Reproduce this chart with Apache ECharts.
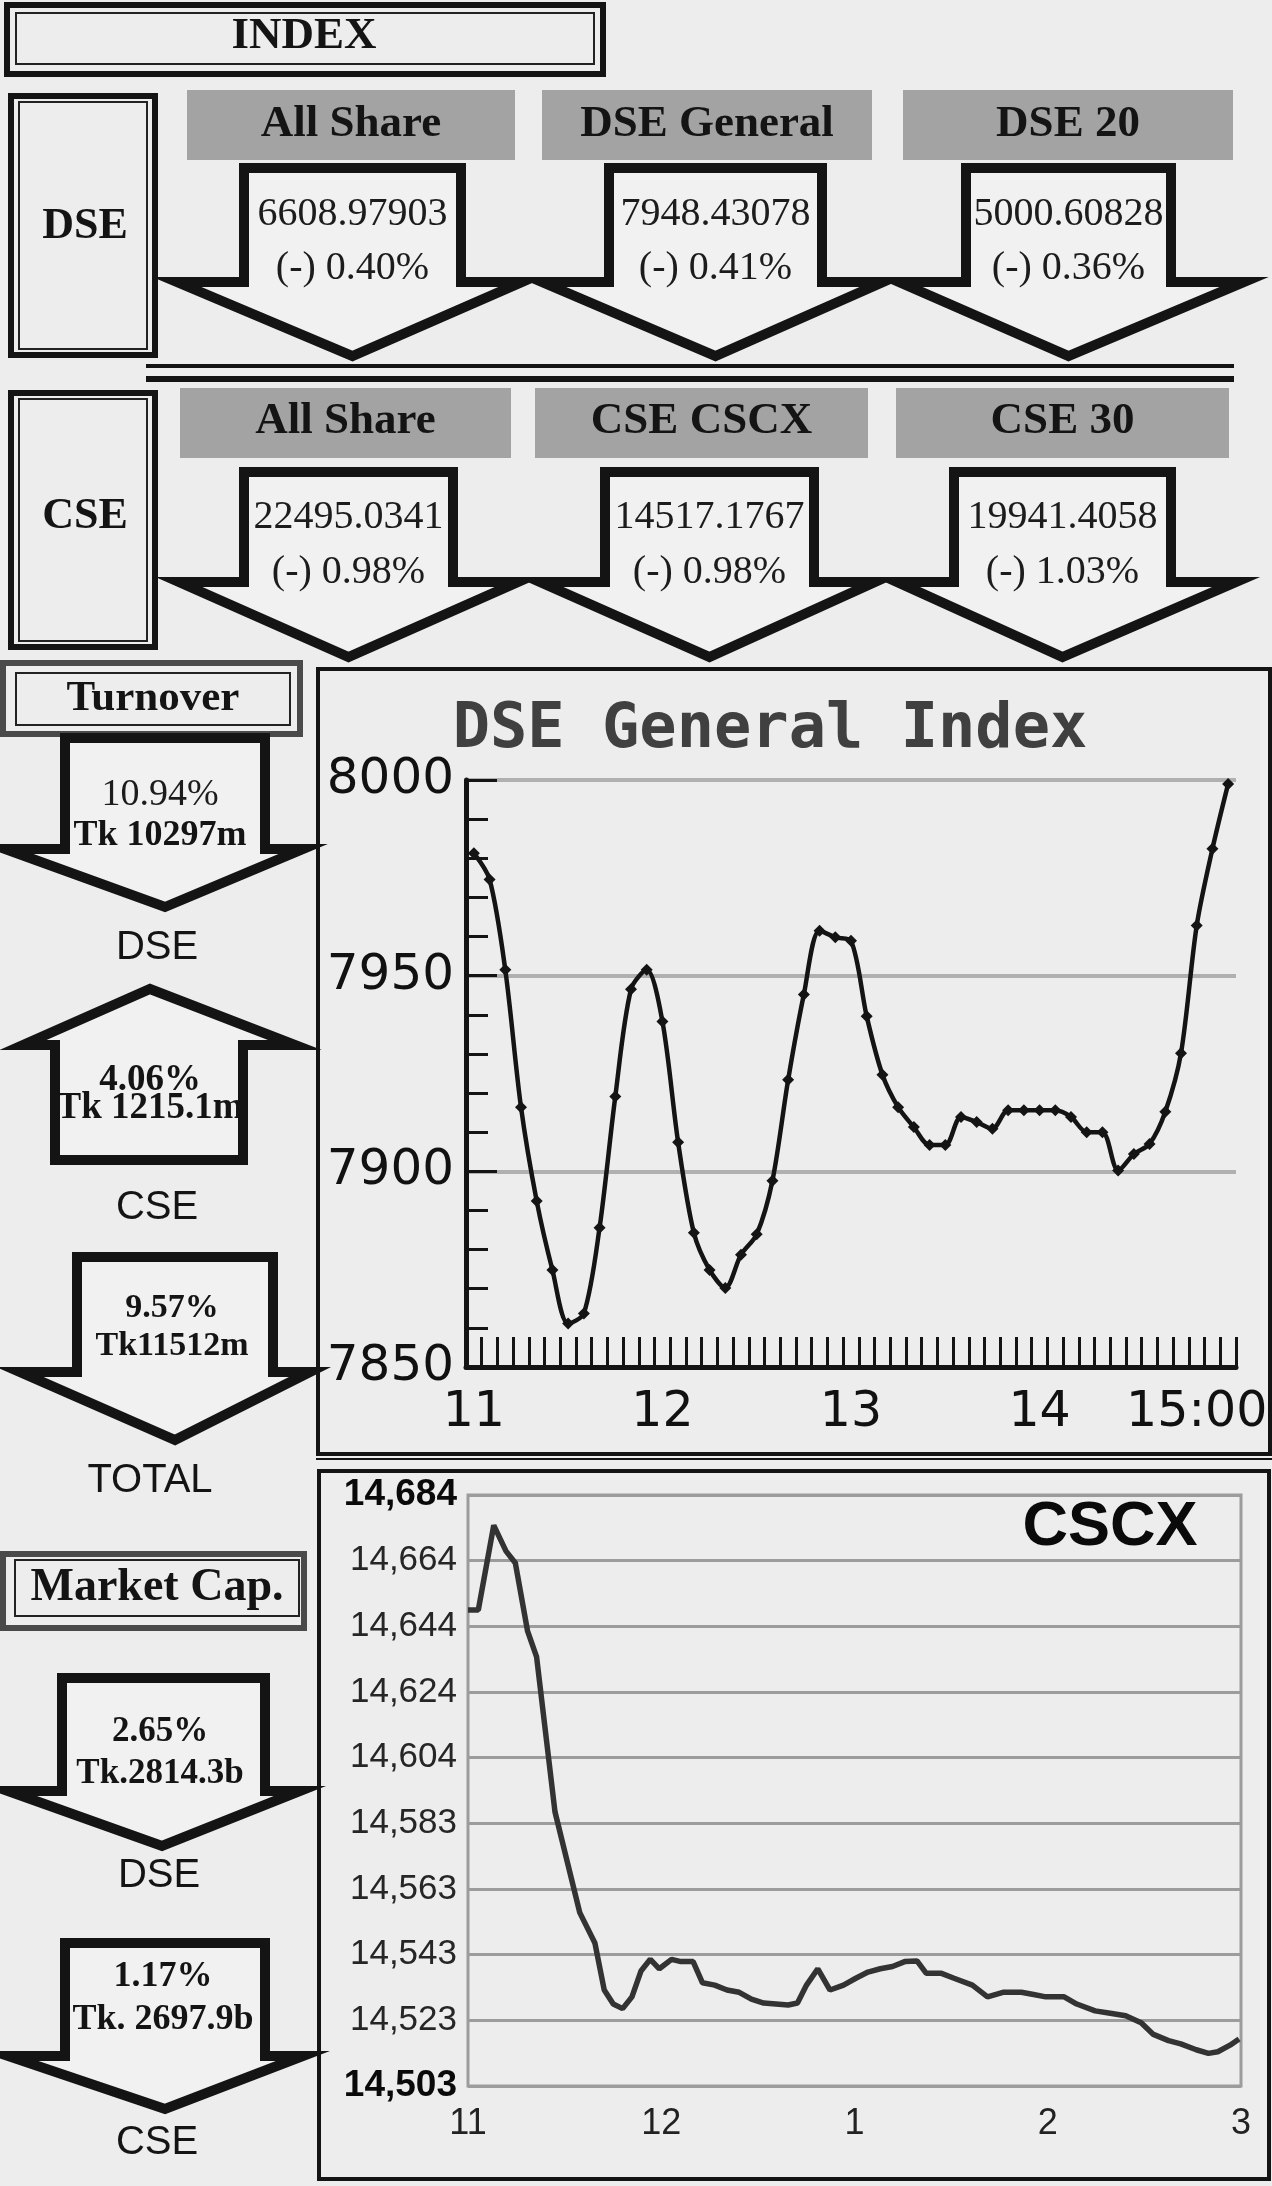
<!DOCTYPE html>
<html>
<head>
<meta charset="utf-8">
<script src="https://cdn.jsdelivr.net/npm/echarts@6/dist/echarts.min.js"></script>
<style>
html,body{margin:0;padding:0;background:#ededed;}
#c{width:1272px;height:2186px;}
</style>
</head>
<body>
<div id="c"></div>
<script>
// ---------- DATA ----------
const dseIndexNames = ['All Share', 'DSE General', 'DSE 20'];
const dseIndexValues = ['6608.97903', '7948.43078', '5000.60828'];
const dseIndexChanges = ['(-) 0.40%', '(-) 0.41%', '(-) 0.36%'];
const cseIndexNames = ['All Share', 'CSE CSCX', 'CSE 30'];
const cseIndexValues = ['22495.0341', '14517.1767', '19941.4058'];
const cseIndexChanges = ['(-) 0.98%', '(-) 0.98%', '(-) 1.03%'];
const turnoverPct = ['10.94%', '4.06%', '9.57%'];
const turnoverAmt = ['Tk 10297m', 'Tk 1215.1m', 'Tk11512m'];
const turnoverLabels = ['DSE', 'CSE', 'TOTAL'];
const mcapPct = ['2.65%', '1.17%'];
const mcapAmt = ['Tk.2814.3b', 'Tk. 2697.9b'];
const mcapLabels = ['DSE', 'CSE'];

const dseValues = [7981.3, 7974.6, 7951.5, 7916.4, 7892.4, 7874.8, 7861.1, 7863.7, 7885.6, 7919.1,
  7946.5, 7951.5, 7938.3, 7907.4, 7884.3, 7874.8, 7870.2, 7878.7, 7883.9, 7897.6,
  7923.4, 7945.2, 7961.5, 7959.8, 7958.9, 7939.6, 7924.7, 7916.4, 7911.3, 7906.7,
  7906.7, 7913.9, 7912.6, 7910.9, 7915.6, 7915.6, 7915.6, 7915.6, 7913.9, 7910.0,
  7910.0, 7900.2, 7904.4, 7907.0, 7915.2, 7930.2, 7962.8, 7982.4, 7999.0];
const dseTickLabels = ['11', '12', '13', '14', '15:00'];
const dseTickIndex = [0, 12, 24, 36, 46];
const dseYMin = 7850, dseYMax = 8000, dseYStep = 50;

const cscxMinutes = [0, 3.2, 8.0, 11.8, 14.7, 18.5, 21.3, 27.0, 34.7, 39.4, 42.3, 45.1, 48.0, 50.9, 53.7,
  56.6, 59.4, 63.2, 66.1, 69.9, 72.8, 76.6, 80.4, 84.2, 88.0, 91.8, 95.6, 99.4, 102.3, 105.1,
  108.6, 112.4, 116.6, 120.4, 124.2, 128.0, 131.8, 135.6, 139.4, 142.3, 147.0, 150.9, 156.6,
  161.3, 166.1, 171.8, 175.6, 179.4, 185.1, 189.0, 194.7, 199.4, 204.2, 209.0, 212.8, 217.5,
  221.3, 226.1, 229.9, 232.8, 236.6, 239.4];
const cscxValues = [14648.8, 14648.8, 14674.7, 14666.8, 14663.2, 14642.3, 14634.4, 14587.0, 14556.1,
  14546.8, 14532.4, 14528.1, 14526.7, 14530.3, 14538.2, 14541.8, 14538.9, 14541.8, 14541.1,
  14541.1, 14534.6, 14533.9, 14532.4, 14531.7, 14529.6, 14528.4, 14528.1, 14527.8, 14528.4,
  14533.9, 14538.9, 14532.4, 14533.9, 14536.0, 14537.9, 14538.9, 14539.6, 14541.1, 14541.3,
  14537.5, 14537.5, 14536.0, 14533.9, 14530.3, 14531.7, 14531.7, 14531.0, 14530.3, 14530.3,
  14528.1, 14526.0, 14525.3, 14524.5, 14522.4, 14518.8, 14516.9, 14515.9, 14514.1, 14513.0,
  14513.5, 14515.5, 14517.4];
const cscxTickLabels = ['11', '12', '1', '2', '3'];
const cscxYMin = 14503, cscxYMax = 14684, cscxYSplits = 9;

// ---------- GRAPHIC HELPERS ----------
const BG = '#ededed';
const INK = '#141414';
const SERIF = '"Liberation Serif", "Times New Roman", serif';
const SANS = '"Liberation Sans", Arial, sans-serif';
const G = [];
function rect(x, y, w, h, stroke, lw, fill, z) {
  G.push({type: 'rect', z: z || 5, shape: {x, y, width: w, height: h},
    style: {fill: fill || 'none', stroke: stroke || 'none', lineWidth: lw || 0}});
}
function hline(x1, x2, y, lw, color) {
  G.push({type: 'line', z: 5, shape: {x1, y1: y, x2, y2: y}, style: {stroke: color || INK, lineWidth: lw}});
}
function txt(x, y, s, font, color, z) {
  G.push({type: 'text', z: z || 20, x, y,
    style: {text: s, font, fill: color || INK, textAlign: 'center', verticalAlign: 'middle'}});
}
const LW = 10, h = LW / 2;
function downArrow(sl, sr, top, sh, hl, hr, tx, ty) {
  G.push({type: 'polygon', z: 10, shape: {points: [
    [sl + h, top + h], [sr - h, top + h], [sr - h, sh + h], [hr - h, sh + h], [tx, ty - 8],
    [hl + h, sh + h], [sl + h, sh + h]]},
    style: {fill: '#f1f1f1', stroke: INK, lineWidth: LW, lineJoin: 'miter'}});
}
function upArrow(sl, sr, bottom, base, hl, hr, tx, ty) {
  G.push({type: 'polygon', z: 10, shape: {points: [
    [tx, ty + 8], [hr - h, base - h], [sr - h, base - h], [sr - h, bottom - h], [sl + h, bottom - h],
    [sl + h, base - h], [hl + h, base - h]]},
    style: {fill: '#f1f1f1', stroke: INK, lineWidth: LW, lineJoin: 'miter'}});
}

// INDEX box
rect(7, 5, 596, 69, INK, 6);
rect(16, 13, 578, 51, '#222', 2);
txt(304, 36, 'INDEX', 'bold 45px ' + SERIF);

// DSE / CSE row boxes
rect(11, 96, 144, 259, INK, 6);
rect(19, 102, 128, 247, '#222', 2);
txt(85, 227, 'DSE', 'bold 44px ' + SERIF);
rect(11, 393, 144, 254, INK, 6);
rect(19, 399, 128, 242, '#222', 2);
txt(85, 517, 'CSE', 'bold 44px ' + SERIF);

// separator
hline(146, 1234, 366, 4);
hline(146, 1234, 379, 6);

// DSE index row
const dseHdrX = [[187, 515], [542, 872], [903, 1233]];
const dseArr = [[239, 466, 172, 527], [604, 827, 537, 888], [961, 1176, 894, 1249]];
dseIndexNames.forEach((n, i) => {
  const [a, b] = dseHdrX[i];
  rect(a, 90, b - a, 70, 'none', 0, '#a3a3a3', 4);
  txt((a + b) / 2, 124, n, 'bold 45px ' + SERIF);
  const [sl, sr, hl, hr] = dseArr[i];
  const cx = (sl + sr) / 2;
  downArrow(sl, sr, 163, 277, hl, hr, cx, 364);
  txt(cx, 214, dseIndexValues[i], '40px ' + SERIF, '#1c1c1c');
  txt(cx, 268, dseIndexChanges[i], '40px ' + SERIF, '#1c1c1c');
});

// CSE index row
const cseHdrX = [[180, 511], [535, 868], [896, 1229]];
const cseArr = [[239, 458, 174, 523], [600, 819, 535, 880], [949, 1176, 892, 1241]];
cseIndexNames.forEach((n, i) => {
  const [a, b] = cseHdrX[i];
  rect(a, 388, b - a, 70, 'none', 0, '#a3a3a3', 4);
  txt((a + b) / 2, 421, n, 'bold 45px ' + SERIF);
  const [sl, sr, hl, hr] = cseArr[i];
  const cx = (sl + sr) / 2;
  downArrow(sl, sr, 467, 577, hl, hr, cx, 665);
  txt(cx, 517, cseIndexValues[i], '40px ' + SERIF, '#1c1c1c');
  txt(cx, 572, cseIndexChanges[i], '40px ' + SERIF, '#1c1c1c');
});

// Turnover
rect(3, 663, 297, 71, '#4a4a4a', 6);
rect(16, 673, 274, 52, '#222', 2);
txt(153, 699, 'Turnover', 'bold 43px ' + SERIF);
downArrow(60, 270, 733, 844, 0, 308, 165, 915);
txt(160, 795, turnoverPct[0], '38px ' + SERIF, '#1c1c1c');
txt(160, 836, turnoverAmt[0], 'bold 36px ' + SERIF);
txt(157, 948, turnoverLabels[0], '40px ' + SANS);
upArrow(50, 248, 1165, 1050, 18, 300, 150, 981);
txt(150, 1080, turnoverPct[1], 'bold 37px ' + SERIF);
txt(150, 1108, turnoverAmt[1], 'bold 37px ' + SERIF);
txt(157, 1208, turnoverLabels[1], '40px ' + SANS);
downArrow(72, 278, 1252, 1367, 15, 315, 175, 1448);
txt(172, 1308, turnoverPct[2], 'bold 34px ' + SERIF);
txt(172, 1346, turnoverAmt[2], 'bold 34px ' + SERIF);
txt(150, 1481, turnoverLabels[2], '40px ' + SANS);

// Market Cap
rect(3, 1554, 301, 74, '#4a4a4a', 6);
rect(15, 1560, 284, 56, '#222', 2);
txt(157, 1588, 'Market Cap.', 'bold 46px ' + SERIF);
downArrow(57, 270, 1673, 1786, 3, 305, 162, 1854);
txt(160, 1732, mcapPct[0], 'bold 35px ' + SERIF);
txt(160, 1774, mcapAmt[0], 'bold 35px ' + SERIF);
txt(159, 1876, mcapLabels[0], '40px ' + SANS);
downArrow(60, 270, 1938, 2051, 3, 308, 165, 2117);
txt(163, 1977, mcapPct[1], 'bold 36px ' + SERIF);
txt(163, 2020, mcapAmt[1], 'bold 36px ' + SERIF);
txt(157, 2143, mcapLabels[1], '40px ' + SANS);

// chart boxes
rect(318, 669, 952, 785, INK, 4, 'none', 3);
hline(316, 1272, 1459, 2);
rect(319, 1471, 950, 708, INK, 4, 'none', 3);

// chart titles
txt(770, 731, 'DSE General Index', 'bold 62px "DejaVu Sans Mono", monospace', '#404040');
txt(1110, 1528, 'CSCX', 'bold 63px ' + SANS, '#0a0a0a');

// ---------- CHART ----------
const chart = echarts.init(document.getElementById('c'), null, {renderer: 'canvas', width: 1272, height: 2186});
const dseCats = dseValues.map((_, i) => String(i));
const dseLabelMap = {};
dseTickIndex.forEach((idx, k) => { dseLabelMap[idx] = dseTickLabels[k]; });

const option = {
  backgroundColor: BG,
  animation: false,
  grid: [
    {left: 466, top: 780, width: 770, height: 587},
    {left: 468, top: 1495, width: 773, height: 591, show: true, borderColor: '#9c9c9c', borderWidth: 3, backgroundColor: 'transparent'}
  ],
  xAxis: [
    {gridIndex: 0, type: 'category', data: dseCats, boundaryGap: true,
      axisLine: {show: true, lineStyle: {color: INK, width: 5}},
      axisTick: {show: true, inside: true, length: 30, interval: 0, lineStyle: {color: INK, width: 3}},
      axisLabel: {interval: 0, formatter: (v, i) => dseLabelMap[i] || '', fontSize: 49,
        fontFamily: '"DejaVu Sans"', color: '#111', margin: 22},
      splitLine: {show: false}},
    {gridIndex: 1, type: 'value', min: 0, max: 240, interval: 60,
      axisLine: {show: false}, axisTick: {show: false}, splitLine: {show: false},
      axisLabel: {formatter: v => cscxTickLabels[Math.round(v / 60)] || '', fontSize: 36,
        fontFamily: '"Liberation Sans"', color: '#222', margin: 20}}
  ],
  yAxis: [
    {gridIndex: 0, type: 'value', min: dseYMin, max: dseYMax, interval: dseYStep,
      axisLine: {show: true, lineStyle: {color: INK, width: 5}},
      axisTick: {show: true, inside: true, length: 31, lineStyle: {color: INK, width: 3}},
      minorTick: {show: true, splitNumber: 5, length: 22, lineStyle: {color: INK, width: 3}},
      splitLine: {show: true, lineStyle: {color: '#b0b0b0', width: 4}},
      axisLabel: {fontSize: 50, fontFamily: '"DejaVu Sans"', color: '#111', margin: 12,
        formatter: v => String(v)}},
    {gridIndex: 1, type: 'value', min: cscxYMin, max: cscxYMax, interval: (cscxYMax - cscxYMin) / cscxYSplits,
      axisLine: {show: false}, axisTick: {show: false},
      splitLine: {show: true, lineStyle: {color: '#9c9c9c', width: 3}},
      axisLabel: {margin: 11,
        formatter: v => {
          const s = Math.round(v).toLocaleString('en-US');
          return (Math.abs(v - cscxYMin) < 1 || Math.abs(v - cscxYMax) < 1) ? '{b|' + s + '}' : '{n|' + s + '}';
        },
        rich: {
          b: {fontSize: 37, fontWeight: 'bold', fontFamily: '"Liberation Sans"', color: '#0a0a0a'},
          n: {fontSize: 35, fontFamily: '"Liberation Sans"', color: '#262626'}
        }}}
  ],
  series: [
    {type: 'line', xAxisIndex: 0, yAxisIndex: 0, data: dseValues, smooth: 0.3,
      symbol: 'diamond', symbolSize: 12,
      lineStyle: {color: INK, width: 4.5}, itemStyle: {color: INK}, z: 4},
    {type: 'line', xAxisIndex: 1, yAxisIndex: 1, data: cscxMinutes.map((m, i) => [m, cscxValues[i]]),
      symbol: 'none', showSymbol: false, lineStyle: {color: '#333', width: 5.5}, z: 4}
  ],
  graphic: {elements: G}
};
chart.setOption(option);
</script>
</body>
</html>
